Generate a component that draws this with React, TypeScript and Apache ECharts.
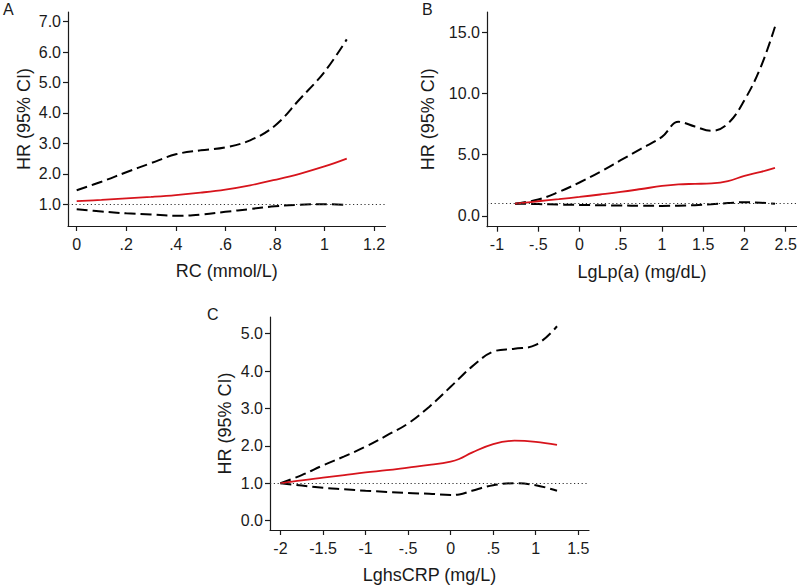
import React, { useEffect, useRef } from "react";
import * as echarts from "echarts";

// Panel A: RC (mmol/L)
const aX = [0, 0.1, 0.2, 0.3, 0.4, 0.5, 0.6, 0.7, 0.8, 0.9, 1.0, 1.09];
const aHR = [1.10, 1.14, 1.19, 1.24, 1.30, 1.38, 1.48, 1.62, 1.80, 2.00, 2.24, 2.50];
const aUpper = [1.46, 1.74, 2.05, 2.35, 2.64, 2.77, 2.87, 3.10, 3.58, 4.45, 5.35, 6.42];
const aLower = [0.83, 0.76, 0.70, 0.66, 0.62, 0.66, 0.75, 0.84, 0.93, 0.98, 1.0, 0.98];
const aXTicks = [0, 0.2, 0.4, 0.6, 0.8, 1.0, 1.2];
const aXLabels = ["0", ".2", ".4", ".6", ".8", "1", "1.2"];
const aYTicks = [1, 2, 3, 4, 5, 6, 7];
const aYLabels = ["1.0", "2.0", "3.0", "4.0", "5.0", "6.0", "7.0"];

// Panel B: LgLp(a) (mg/dL)
const bX = [-0.78, -0.5, -0.25, 0, 0.25, 0.5, 0.75, 1.0, 1.2, 1.4, 1.6, 1.8, 2.0, 2.2, 2.37];
const bHR = [1.0, 1.2, 1.37, 1.55, 1.75, 1.96, 2.2, 2.45, 2.58, 2.62, 2.66, 2.85, 3.27, 3.6, 3.93];
const bUpper = [1.0, 1.34, 1.96, 2.73, 3.6, 4.55, 5.5, 6.46, 7.69, 7.3, 6.95, 7.55, 9.46, 12.2, 15.46];
const bLower = [1.0, 0.97, 0.93, 0.9, 0.87, 0.85, 0.83, 0.82, 0.84, 0.88, 0.96, 1.05, 1.12, 1.08, 1.0];
const bXTicks = [-1, -0.5, 0, 0.5, 1, 1.5, 2, 2.5];
const bXLabels = ["-1", "-.5", "0", ".5", "1", "1.5", "2", "2.5"];
const bYTicks = [0, 5, 10, 15];
const bYLabels = ["0.0", "5.0", "10.0", "15.0"];

// Panel C: LghsCRP (mg/L)
const cX = [-2, -1.75, -1.5, -1.25, -1, -0.75, -0.5, -0.25, 0, 0.1, 0.25, 0.5, 0.75, 1.0, 1.25];
const cHR = [1.0, 1.08, 1.15, 1.22, 1.29, 1.35, 1.42, 1.49, 1.58, 1.65, 1.82, 2.05, 2.14, 2.11, 2.03];
const cUpper = [1.0, 1.22, 1.48, 1.72, 1.98, 2.28, 2.6, 3.05, 3.58, 3.8, 4.12, 4.52, 4.6, 4.7, 5.2];
const cLower = [1.0, 0.94, 0.88, 0.84, 0.8, 0.77, 0.74, 0.72, 0.69, 0.7, 0.8, 0.95, 1.0, 0.95, 0.8];
const cXTicks = [-2, -1.5, -1, -0.5, 0, 0.5, 1, 1.5];
const cXLabels = ["-2", "-1.5", "-1", "-.5", "0", ".5", "1", "1.5"];
const cYTicks = [0, 1, 2, 3, 4, 5];
const cYLabels = ["0.0", "1.0", "2.0", "3.0", "4.0", "5.0"];

const xTitles = ["RC (mmol/L)", "LgLp(a) (mg/dL)", "LghsCRP (mg/L)"];
const yTitle = "HR (95% CI)";
const panelLetters = ["A", "B", "C"];
const refValue = 1;

const FONT = "'Liberation Sans', Arial, sans-serif";
const RED = "#d7141c";
const AXIS_COLOR = "#1a1a1a";

const pair = (xs: number[], ys: number[]) => xs.map((x, i) => [x, ys[i]]);
const fmt = (ticks: number[], labels: string[]) => (v: number) => {
  const i = ticks.findIndex((t) => Math.abs(t - v) < 1e-9);
  return i >= 0 ? labels[i] : "";
};

export default function App() {
  const ref = useRef<HTMLDivElement>(null);
  useEffect(() => {
    if (!ref.current) return;
    const chart = echarts.init(ref.current, null, { renderer: "svg" });

    const grids = [
      { left: 68, top: 12, width: 317.5, height: 214 },
      { left: 487, top: 12, width: 310, height: 214.7 },
      { left: 270, top: 317, width: 319, height: 213 },
    ];
    const xRanges = [
      [-0.0351, 1.2464],
      [-1.121, 2.637],
      [-2.123, 1.626],
    ];
    const yRanges = [
      [0.283, 7.319],
      [-0.88, 16.66],
      [-0.249, 5.447],
    ];
    const xTicks = [aXTicks, bXTicks, cXTicks];
    const xLabels = [aXLabels, bXLabels, cXLabels];
    const yTicks = [aYTicks, bYTicks, cYTicks];
    const yLabels = [aYLabels, bYLabels, cYLabels];
    const yNameGaps = [35, 50, 36];
    const data = [
      [aX, aHR, aUpper, aLower],
      [bX, bHR, bUpper, bLower],
      [cX, cHR, cUpper, cLower],
    ];

    const axisCommon = {
      axisLine: { show: true, onZero: false, lineStyle: { color: AXIS_COLOR, width: 1.2 } },
      axisTick: { show: true, length: 5, lineStyle: { color: AXIS_COLOR, width: 1.2 } },
      splitLine: { show: false },
      nameTextStyle: { fontFamily: FONT, fontSize: 18, color: "#1a1a1a" },
    };

    const xAxes = [0, 1, 2].map((i) => ({
      type: "value",
      gridIndex: i,
      min: xRanges[i][0],
      max: xRanges[i][1],
      name: xTitles[i],
      nameLocation: "middle",
      nameGap: 36,
      ...axisCommon,
      axisTick: { ...axisCommon.axisTick, customValues: xTicks[i] },
      axisLabel: {
        customValues: xTicks[i],
        formatter: fmt(xTicks[i], xLabels[i]),
        fontFamily: FONT,
        fontSize: 16,
        color: "#1a1a1a",
        margin: 10,
      },
    }));
    const yAxes = [0, 1, 2].map((i) => ({
      type: "value",
      gridIndex: i,
      min: yRanges[i][0],
      max: yRanges[i][1],
      name: yTitle,
      nameLocation: "middle",
      nameGap: yNameGaps[i],
      ...axisCommon,
      axisTick: { ...axisCommon.axisTick, customValues: yTicks[i] },
      axisLabel: {
        customValues: yTicks[i],
        formatter: fmt(yTicks[i], yLabels[i]),
        fontFamily: FONT,
        fontSize: 16,
        color: "#1a1a1a",
        margin: 7,
      },
    }));

    const series: any[] = [];
    [0, 1, 2].forEach((i) => {
      const [xs, hr, up, lo] = data[i];
      const base = {
        type: "line",
        xAxisIndex: i,
        yAxisIndex: i,
        showSymbol: false,
        symbol: "none",
        smooth: 0.4,
        silent: true,
      };
      series.push({
        ...base,
        name: "upper" + i,
        data: pair(xs, up),
        lineStyle: { color: "#000", width: 2, type: [11, 5] },
        markLine: {
          silent: true,
          symbol: "none",
          label: { show: false },
          lineStyle: { color: "#333", width: 1.2, type: [1.2, 2.6] },
          data: [{ yAxis: refValue }],
        },
      });
      series.push({
        ...base,
        name: "lower" + i,
        data: pair(xs, lo),
        lineStyle: { color: "#000", width: 2, type: [11, 5] },
      });
      series.push({
        ...base,
        name: "hr" + i,
        data: pair(xs, hr),
        lineStyle: { color: RED, width: 1.8 },
        z: 3,
      });
    });

    const letterPos = [
      [3, 1],
      [422, 1],
      [207, 306],
    ];

    chart.setOption({
      animation: false,
      backgroundColor: "#fff",
      grid: grids.map((g) => ({ ...g, containLabel: false, outerBoundsMode: "none" })),
      xAxis: xAxes,
      yAxis: yAxes,
      series,
      graphic: panelLetters.map((t, i) => ({
        type: "text",
        left: letterPos[i][0],
        top: letterPos[i][1],
        style: { text: t, fontFamily: FONT, fontSize: 16, fill: "#1a1a1a" },
      })),
    });

    return () => chart.dispose();
  }, []);

  return (
    <div
      ref={ref}
      style={{ position: "fixed", left: 0, top: 0, width: 797, height: 585, background: "#fff" }}
    />
  );
}
